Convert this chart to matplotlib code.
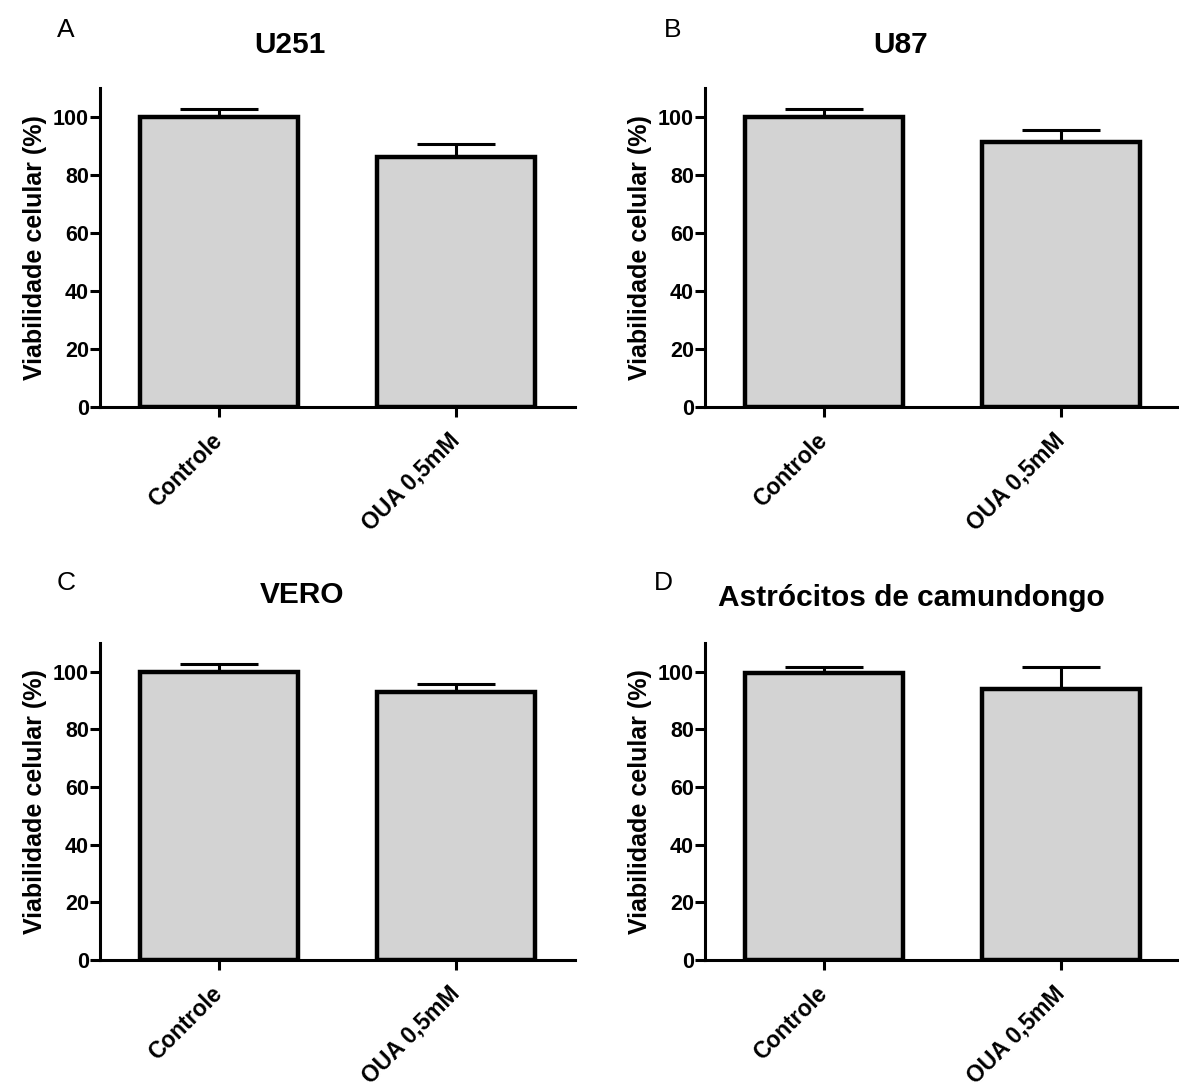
import matplotlib
matplotlib.use("Agg")
import matplotlib.pyplot as plt
import matplotlib.transforms as mtransforms

plt.rcParams['font.family'] = ['Liberation Sans', 'DejaVu Sans']

# data
groups = ["Controle", "OUA 0,5mM"]
panel_letters = ["A", "B", "C", "D"]
panel_titles = ["U251", "U87", "VERO", "Astrócitos de camundongo"]
means = [[100, 86.2], [100, 91.5], [100, 93.0], [99.7, 94.0]]
errors = [[2.8, 4.5], [2.8, 4.0], [2.8, 2.8], [2.0, 7.6]]
yticks = [0, 20, 40, 60, 80, 100]

fig = plt.figure(figsize=(11.79, 10.88), dpi=100)

# axes boxes in pixels (left, top, right, bottom)
boxes = [(100, 88, 575, 407), (705, 88, 1180, 407),
         (100, 643, 575, 960), (705, 643, 1180, 960)]
title_x = [290, 901, 302, 911]
title_y = [45, 45, 595, 598]
letter_x = [57, 664, 57, 654]
letter_y = [30, 30, 583, 583]
W, H = 1179, 1088

# nudge rotated x labels left so they end at the tick
shift = mtransforms.ScaledTranslation(-8 / 100, 0, fig.dpi_scale_trans)

for i in range(4):
    l, t, r, b = boxes[i]
    ax = fig.add_axes([l / W, 1 - b / H, (r - l) / W, (b - t) / H])
    x = [0, 1]
    ax.bar(x, means[i], width=0.667, color="#d3d3d3", edgecolor="black",
           linewidth=3.2, zorder=2)
    ax.errorbar(x, means[i], yerr=[[0, 0], errors[i]], fmt="none",
                ecolor="black", elinewidth=2.2, capsize=28, capthick=2.2,
                zorder=1)
    ax.set_xlim(-0.5, 1.5)
    ax.set_ylim(0, 110)
    ax.set_yticks(yticks)
    ax.set_xticks(x)
    ax.set_xticklabels(groups, rotation=45, ha="right", rotation_mode="anchor",
                       fontsize=16.5, fontweight="bold")
    ax.set_yticklabels([str(v) for v in yticks], fontsize=15.5, fontweight="bold")
    ax.spines["top"].set_visible(False)
    ax.spines["right"].set_visible(False)
    ax.spines["left"].set_linewidth(2.2)
    ax.spines["bottom"].set_linewidth(2.2)
    ax.tick_params(axis="both", width=2.2, length=7)
    ax.tick_params(axis="y", pad=1)
    ax.tick_params(axis="x", pad=9)
    # after tick_params, otherwise the transforms get reset
    for lab in ax.get_xticklabels():
        lab.set_transform(lab.get_transform() + shift)
    ax.set_ylabel("Viabilidade celular (%)", fontsize=18, fontweight="bold",
                  labelpad=4)
    fig.text(title_x[i] / W, 1 - title_y[i] / H, panel_titles[i], ha="center",
             va="center", fontsize=21.5, fontweight="bold")
    fig.text(letter_x[i] / W, 1 - letter_y[i] / H, panel_letters[i], ha="left",
             va="center", fontsize=19)

fig.savefig("out.png", dpi=100)
